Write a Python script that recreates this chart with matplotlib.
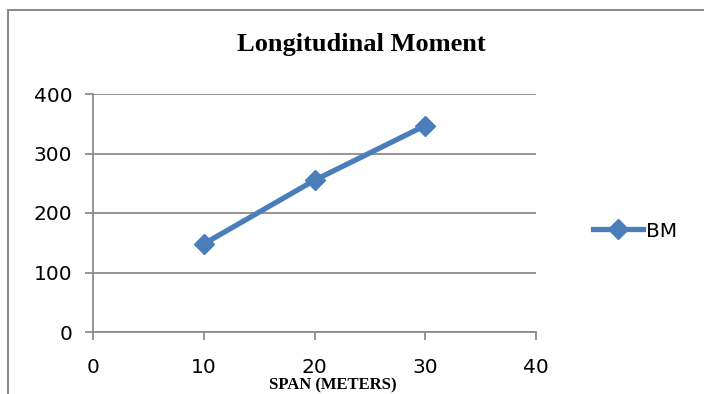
import matplotlib
matplotlib.use("Agg")
from matplotlib import pyplot as plt
from matplotlib.patches import Rectangle

span = [10, 20, 30]
bm = [148, 255, 347]
xticks = [0, 10, 20, 30, 40]
yticks = [0, 100, 200, 300, 400]

blue = '#4a7ebb'
grey = '#8c8c8c'

fig = plt.figure(figsize=(7.04, 3.94), dpi=100)
ax = fig.add_axes([93 / 704, 1 - 332 / 394, (536 - 93) / 704, (332 - 94) / 394])

ax.plot(span, bm, color=blue, lw=3.8, marker='D', ms=10.5, label='BM')

ax.set_xlim(0, 40)
ax.set_ylim(0, 400)
ax.set_xticks(xticks)
ax.set_yticks(yticks)
ax.yaxis.grid(True, color=grey, lw=1.3)
ax.set_axisbelow(True)
for s in ['top', 'right']:
    ax.spines[s].set_visible(False)
for s in ['left', 'bottom']:
    ax.spines[s].set_color(grey)
    ax.spines[s].set_linewidth(1.3)
ax.tick_params(colors=grey, width=1.3, length=6, labelsize=14.5, labelcolor='black')
ax.tick_params(axis='x', pad=13)
ax.tick_params(axis='y', pad=9)

# x title sits right at the bottom edge
fig.text(333 / 704, 1 / 394, 'SPAN (METERS)', family='Liberation Serif',
         fontweight='bold', fontsize=12, ha='center', va='bottom')

fig.text(361 / 704, 1 - 45 / 394, 'Longitudinal Moment', family='Liberation Serif',
         fontweight='bold', fontsize=19, ha='center', va='center')

ax.legend(loc='center left', bbox_to_anchor=(575 / 704, 1 - 231 / 394),
          bbox_transform=fig.transFigure, frameon=False, fontsize=14.5,
          handlelength=2.5, handletextpad=0.15)

fig.patches.append(Rectangle((8 / 704, -0.1), 1.2, 1 - 10 / 394 + 0.1,
                             transform=fig.transFigure, fill=False,
                             edgecolor=grey, lw=1.5))

fig.savefig('out.png', dpi=100)
